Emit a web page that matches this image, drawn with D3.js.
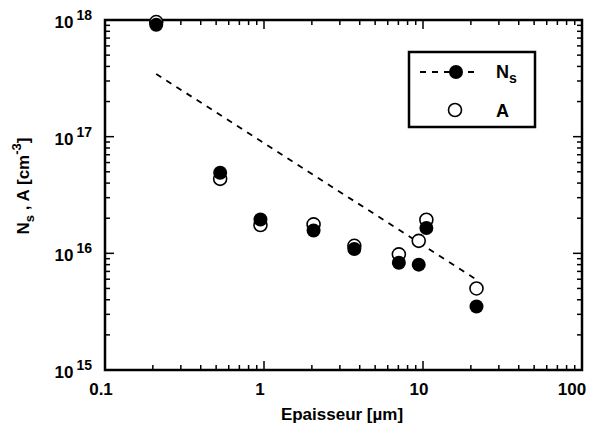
<!DOCTYPE html>
<html>
<head>
<meta charset="utf-8">
<script src="https://cdn.jsdelivr.net/npm/d3@7"></script>
<style>
	body { margin: 0; background: #fff; }
	text { font-family: "Liberation Sans", Arial, sans-serif; font-weight: bold; fill: #000; }
</style>
</head>
<body>
<div id="plot"></div>
<script>
// thickness (um) and concentrations (cm^-3)
const thickness = [0.21, 0.53, 0.95, 2.05, 3.7, 7.05, 9.4, 10.5, 21.7];
const ns_values = [9.1e17, 4.9e16, 1.95e16, 1.57e16, 1.09e16, 8.3e15, 8.0e15, 1.65e16, 3.5e15];
const a_values  = [9.6e17, 4.35e16, 1.75e16, 1.77e16, 1.16e16, 9.8e15, 1.28e16, 1.94e16, 5.0e15];

// dashed fit line for Ns
const fit_x = [0.21, 21.5];
const fit_y = [3.45e17, 6.0e15];

const x_ticks = [0.1, 1, 10, 100];
const x_labels = ["0.1", "1", "10", "100"];
const y_ticks = [1e15, 1e16, 1e17, 1e18];
const y_exps = ["15", "16", "17", "18"];

const FRAME_WIDTH = 591;
const FRAME_HEIGHT = 429;
const LEFT = 105, RIGHT = 582, TOP = 20, BOTTOM = 370;

const FRAME1 = d3.select("#plot")
	.append("svg")
		.attr("width", FRAME_WIDTH)
		.attr("height", FRAME_HEIGHT);

const x = d3.scaleLog().domain([0.1, 100]).range([LEFT, RIGHT]);
const y = d3.scaleLog().domain([1e15, 1e18]).range([BOTTOM, TOP]);

// minor + major ticks, all pointing inward
const xt = x.ticks();
const yt = y.ticks();
function isMajor(v) { return Math.abs(Math.log10(v) - Math.round(Math.log10(v))) < 1e-6; }

const ticks = FRAME1.append("g").attr("stroke", "#000").attr("stroke-width", 1.5);
xt.forEach(function(v) {
	let len = isMajor(v) ? 9 : 5;
	ticks.append("line").attr("x1", x(v)).attr("x2", x(v)).attr("y1", BOTTOM).attr("y2", BOTTOM - len);
	ticks.append("line").attr("x1", x(v)).attr("x2", x(v)).attr("y1", TOP).attr("y2", TOP + len);
});
yt.forEach(function(v) {
	let len = isMajor(v) ? 9 : 5;
	ticks.append("line").attr("y1", y(v)).attr("y2", y(v)).attr("x1", LEFT).attr("x2", LEFT + len);
	ticks.append("line").attr("y1", y(v)).attr("y2", y(v)).attr("x1", RIGHT).attr("x2", RIGHT - len);
});

// frame
FRAME1.append("rect")
	.attr("x", LEFT).attr("y", TOP)
	.attr("width", RIGHT - LEFT).attr("height", BOTTOM - TOP)
	.attr("fill", "none").attr("stroke", "#000").attr("stroke-width", 2.5);

// x tick labels (last one kept inside the page)
FRAME1.selectAll(".xlab")
	.data(x_ticks)
	.enter().append("text")
		.attr("x", d => Math.min(x(d) - 4, FRAME_WIDTH - 19))
		.attr("y", BOTTOM + 25)
		.attr("text-anchor", "middle")
		.attr("font-size", 17)
		.text((d, i) => x_labels[i]);

// y tick labels: 10 with superscript
y_ticks.forEach(function(v, i) {
	let t = FRAME1.append("text")
		.attr("x", 92)
		.attr("y", y(v) + 8)
		.attr("text-anchor", "end")
		.attr("font-size", 17);
	t.append("tspan").text("10");
	t.append("tspan").attr("dx", 3).attr("dy", -8).attr("font-size", 14).text(y_exps[i]);
});

// axis titles
FRAME1.append("text")
	.attr("x", 342).attr("y", 420)
	.attr("text-anchor", "middle")
	.attr("font-size", 17)
	.text("Epaisseur [\u00b5m]");

let yl = FRAME1.append("text")
	.attr("transform", "translate(29,186) rotate(-90)")
	.attr("text-anchor", "middle")
	.attr("font-size", 17);
yl.append("tspan").text("N");
yl.append("tspan").attr("dy", 5).attr("font-size", 13).text("s");
yl.append("tspan").attr("dy", -5).text(" ,  A [cm");
yl.append("tspan").attr("dy", -8).attr("font-size", 13).text("-3");
yl.append("tspan").attr("dy", 8).text("]");

// dashed fit line
const line = d3.line().x(d => x(d[0])).y(d => y(d[1]));
FRAME1.append("path")
	.datum(d3.zip(fit_x, fit_y))
	.attr("d", line)
	.attr("fill", "none")
	.attr("stroke", "#000")
	.attr("stroke-width", 1.8)
	.attr("stroke-dasharray", "6,6");

// open circles (A)
FRAME1.selectAll(".a_pt")
	.data(d3.zip(thickness, a_values))
	.enter().append("circle")
		.attr("cx", d => x(d[0]))
		.attr("cy", d => y(d[1]))
		.attr("r", 6.5)
		.attr("fill", "#fff")
		.attr("stroke", "#000")
		.attr("stroke-width", 1.6);

// filled circles (Ns)
FRAME1.selectAll(".ns_pt")
	.data(d3.zip(thickness, ns_values))
	.enter().append("circle")
		.attr("cx", d => x(d[0]))
		.attr("cy", d => y(d[1]))
		.attr("r", 7)
		.attr("fill", "#000");

// legend
const LEG = FRAME1.append("g");
LEG.append("rect")
	.attr("x", 409).attr("y", 52)
	.attr("width", 126).attr("height", 75)
	.attr("fill", "#fff").attr("stroke", "#000").attr("stroke-width", 2.5);
LEG.append("line")
	.attr("x1", 420).attr("x2", 476).attr("y1", 72).attr("y2", 72)
	.attr("stroke", "#000").attr("stroke-width", 1.8).attr("stroke-dasharray", "6,6");
LEG.append("circle").attr("cx", 456).attr("cy", 72).attr("r", 7).attr("fill", "#000");
LEG.append("circle").attr("cx", 455).attr("cy", 110).attr("r", 6.5)
	.attr("fill", "#fff").attr("stroke", "#000").attr("stroke-width", 1.6);
let lt = LEG.append("text").attr("x", 496).attr("y", 78).attr("font-size", 18);
lt.append("tspan").text("N");
lt.append("tspan").attr("dy", 5).attr("font-size", 14).text("s");
LEG.append("text").attr("x", 496).attr("y", 117).attr("font-size", 18).text("A");
</script>
</body>
</html>
